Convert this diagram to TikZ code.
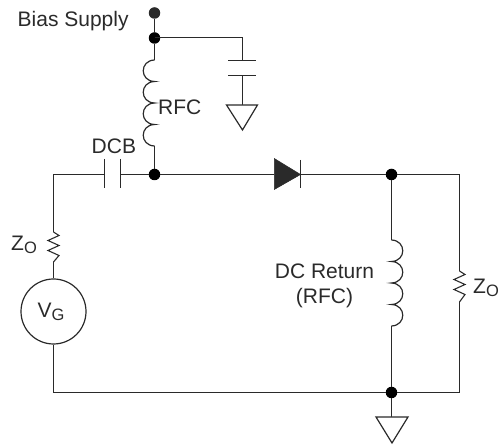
\documentclass[tikz,border=0pt]{standalone}
\usepackage{fontspec}
\setmainfont{Liberation Sans}
\definecolor{ink}{HTML}{2A2A2A}
\newcommand{\lbl}[2]{#1{\fontsize{16.5}{17}\selectfont\raisebox{-3pt}{#2}}}
\tikzset{
  x=1pt,y=-1pt,
  wire/.style={draw=ink,line width=1.2pt,line cap=butt,line join=miter},
  dotn/.style={circle,fill=black,inner sep=0pt,minimum size=11.5pt},
  lab/.style={text=ink,font=\fontsize{21}{25}\selectfont,inner sep=0pt,align=center},
  gnd/.style={wire,fill=white}
}
\begin{document}
\begin{tikzpicture}
\useasboundingbox (0,0) rectangle (499,446);
% junctions
\node[dotn,fill=ink] (top) at (154.5,13) {};
\node[dotn] (j1) at (154.5,38) {};
\node[dotn] (j2) at (154.5,174.5) {};
\node[dotn] (j3) at (391.5,174.5) {};
\node[dotn] (j4) at (391.5,392.5) {};
% corners and component terminals
\coordinate (c1) at (242.5,37.5);
\coordinate (cp1) at (242.5,60.5);
\coordinate (cp2) at (242.5,75.5);
\coordinate (g1) at (242.5,105);
\coordinate (l1a) at (154.5,60);
\coordinate (l1b) at (154.5,146);
\coordinate (tl) at (53.5,174.5);
\coordinate (dcbL) at (104.5,174.5);
\coordinate (dcbR) at (120.5,174.5);
\coordinate (da) at (274,174.5);
\coordinate (dk) at (300.5,174.5);
\coordinate (tr) at (459.5,174.5);
\coordinate (r2a) at (459.5,271);
\coordinate (r2b) at (459.5,302);
\coordinate (br) at (459.5,392.5);
\coordinate (bl) at (53.5,392.5);
\coordinate (l2a) at (391.5,240);
\coordinate (l2b) at (391.5,326);
\coordinate (g2) at (391.5,417);
\coordinate (r1a) at (53.5,232);
\coordinate (r1b) at (53.5,262);
\node[circle,draw=ink,line width=1.2pt,minimum size=65pt,inner sep=0pt] (vg) at (53.5,311.5) {};
% wires
\draw[wire] (top) -- (j1) -- (l1a);
\draw[wire] (154.5,37.5) -- (c1) -- (cp1);
\draw[wire] (cp2) -- (g1);
\draw[wire] (l1b) -- (j2);
\draw[wire] (r1a) -- (tl) -- (dcbL);
\draw[wire] (dcbR) -- (j2) -- (da);
\draw[wire] (dk) -- (j3) -- (tr) -- (r2a);
\draw[wire] (r2b) -- (br) -- (j4) -- (bl) -- (vg.south);
\draw[wire] (r1b) -- (vg.north);
\draw[wire] (j3) -- (l2a);
\draw[wire] (l2b) -- (j4) -- (g2);
% capacitors
\draw[wire] (228,60.5) -- (256,60.5) (228,75.5) -- (256,75.5);
\draw[wire] (104.5,159) -- (104.5,188) (120.5,159) -- (120.5,188);
% grounds
\draw[gnd] (226.5,105) -- (257.5,105) -- (242.5,130) -- cycle;
\draw[gnd] (376,417) -- (408,417) -- (392,443) -- cycle;
% inductors
\draw[wire] (l1a) \foreach \i in {0,1,2,3} { .. controls +(-15,0.5) and +(-15,-0.5) .. ++(0,21.5) };
\draw[wire] (l2a) \foreach \i in {0,1,2,3} { .. controls +(15,0.5) and +(15,-0.5) .. ++(0,21.5) };
% resistors
\draw[wire,line width=1.1pt] (r1a) -- ++(5.5,3.5) -- ++(-11,5) -- ++(11,5) -- ++(-11,5) -- ++(11,5) -- ++(-5.5,6.5);
\draw[wire,line width=1.1pt] (r2a) -- ++(5.5,3.5) -- ++(-11,5) -- ++(11,5) -- ++(-11,5) -- ++(11,5) -- ++(-5.5,7.5);
% diode
\draw[draw=ink,fill=ink,line width=0.5pt] (274.3,158.5) -- (300.5,174.5) -- (274.3,189.5) -- cycle;
\draw[wire] (300.5,160) -- (300.5,188.5);
% labels
\node[lab,anchor=west] (tbias) at (17.5,21) {Bias Supply};
\node[lab,anchor=west] (trfc1) at (158,107) {RFC};
\node[lab,anchor=west] (tdcb) at (91.5,146) {DCB};
\node[lab,anchor=west] (tz1) at (11,245) {\lbl{Z}{O}};
\node[lab] (tvg) at (51,312) {\lbl{V}{G}};
\node[lab] (tdc) at (324.5,286) {DC Return\\(RFC)};
\node[lab,anchor=west] (tz2) at (473,288) {\lbl{Z}{O}};
\end{tikzpicture}
\end{document}
